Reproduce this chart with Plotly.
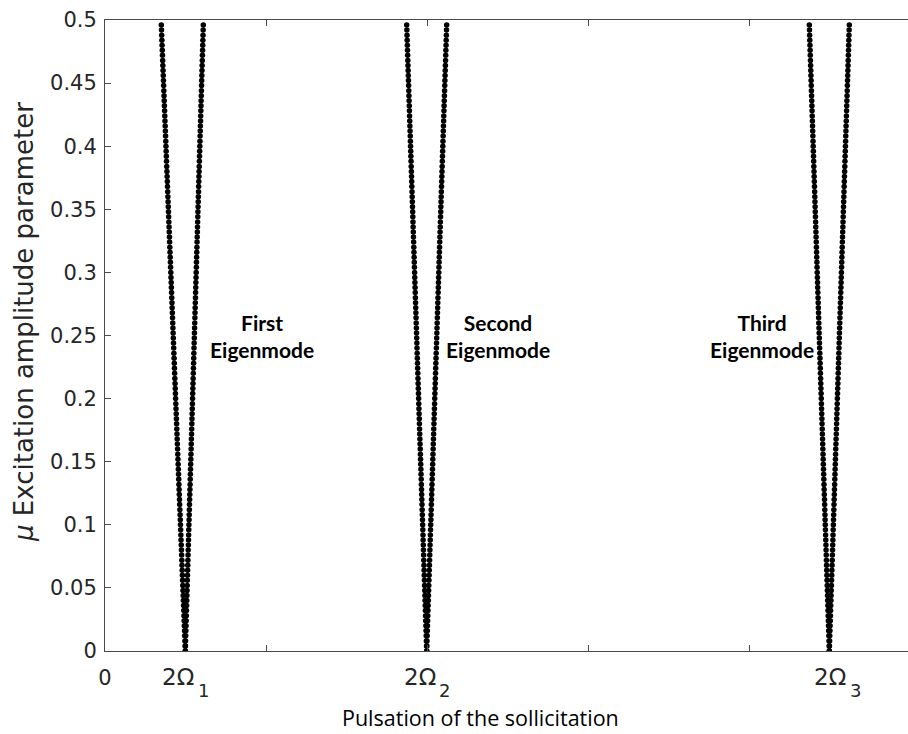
import plotly.graph_objects as go

# Excitation amplitude levels (shared by every boundary branch)
mu = [
    0, 0.004, 0.008, 0.012, 0.016, 0.02, 0.024, 0.028, 0.032, 0.036,
    0.04, 0.044, 0.048, 0.052, 0.056, 0.06, 0.064, 0.068, 0.072, 0.076,
    0.08, 0.084, 0.088, 0.092, 0.096, 0.1, 0.104, 0.108, 0.112, 0.116,
    0.12, 0.124, 0.128, 0.132, 0.136, 0.14, 0.144, 0.148, 0.152, 0.156,
    0.16, 0.164, 0.168, 0.172, 0.176, 0.18, 0.184, 0.188, 0.192, 0.196,
    0.2, 0.204, 0.208, 0.212, 0.216, 0.22, 0.224, 0.228, 0.232, 0.236,
    0.24, 0.244, 0.248, 0.252, 0.256, 0.26, 0.264, 0.268, 0.272, 0.276,
    0.28, 0.284, 0.288, 0.292, 0.296, 0.3, 0.304, 0.308, 0.312, 0.316,
    0.32, 0.324, 0.328, 0.332, 0.336, 0.34, 0.344, 0.348, 0.352, 0.356,
    0.36, 0.364, 0.368, 0.372, 0.376, 0.38, 0.384, 0.388, 0.392, 0.396,
    0.4, 0.404, 0.408, 0.412, 0.416, 0.42, 0.424, 0.428, 0.432, 0.436,
    0.44, 0.444, 0.448, 0.452, 0.456, 0.46, 0.464, 0.468, 0.472, 0.476,
    0.48, 0.484, 0.488, 0.492, 0.496,
]

# Instability boundaries around 2*Omega_1 (lower / upper frequency branch)
mode1_low = [
    49.80, 49.68, 49.56, 49.44, 49.32, 49.20, 49.08, 48.96, 48.84, 48.72,
    48.60, 48.48, 48.36, 48.24, 48.12, 48.00, 47.88, 47.76, 47.64, 47.52,
    47.40, 47.28, 47.16, 47.04, 46.92, 46.80, 46.68, 46.56, 46.44, 46.32,
    46.20, 46.08, 45.96, 45.84, 45.72, 45.60, 45.48, 45.36, 45.24, 45.12,
    45.00, 44.88, 44.76, 44.64, 44.52, 44.40, 44.28, 44.16, 44.04, 43.92,
    43.80, 43.68, 43.56, 43.44, 43.32, 43.20, 43.08, 42.96, 42.84, 42.72,
    42.60, 42.48, 42.36, 42.24, 42.12, 42.00, 41.88, 41.76, 41.64, 41.52,
    41.40, 41.28, 41.16, 41.04, 40.92, 40.80, 40.68, 40.56, 40.44, 40.32,
    40.20, 40.08, 39.96, 39.84, 39.72, 39.60, 39.48, 39.36, 39.24, 39.12,
    39.00, 38.88, 38.76, 38.64, 38.52, 38.40, 38.28, 38.16, 38.04, 37.92,
    37.80, 37.68, 37.56, 37.44, 37.32, 37.20, 37.08, 36.96, 36.84, 36.72,
    36.60, 36.48, 36.36, 36.24, 36.12, 36.00, 35.88, 35.76, 35.64, 35.52,
    35.40, 35.28, 35.16, 35.04, 34.92,
]
mode1_high = [
    49.80, 49.89, 49.98, 50.07, 50.16, 50.25, 50.34, 50.43, 50.52, 50.61,
    50.70, 50.79, 50.88, 50.97, 51.06, 51.15, 51.24, 51.33, 51.42, 51.51,
    51.60, 51.69, 51.78, 51.87, 51.96, 52.05, 52.14, 52.23, 52.32, 52.41,
    52.50, 52.59, 52.68, 52.77, 52.86, 52.95, 53.04, 53.13, 53.22, 53.31,
    53.40, 53.49, 53.58, 53.67, 53.76, 53.85, 53.94, 54.03, 54.12, 54.21,
    54.30, 54.39, 54.48, 54.57, 54.66, 54.75, 54.84, 54.93, 55.02, 55.11,
    55.20, 55.29, 55.38, 55.47, 55.56, 55.65, 55.74, 55.83, 55.92, 56.01,
    56.10, 56.19, 56.28, 56.37, 56.46, 56.55, 56.64, 56.73, 56.82, 56.91,
    57.00, 57.09, 57.18, 57.27, 57.36, 57.45, 57.54, 57.63, 57.72, 57.81,
    57.90, 57.99, 58.08, 58.17, 58.26, 58.35, 58.44, 58.53, 58.62, 58.71,
    58.80, 58.89, 58.98, 59.07, 59.16, 59.25, 59.34, 59.43, 59.52, 59.61,
    59.70, 59.79, 59.88, 59.97, 60.06, 60.15, 60.24, 60.33, 60.42, 60.51,
    60.60, 60.69, 60.78, 60.87, 60.96,
]

# Instability boundaries around 2*Omega_2
mode2_low = [
    199.5, 199.4, 199.3, 199.2, 199.1, 199.0, 198.9, 198.8, 198.7, 198.6,
    198.5, 198.4, 198.3, 198.2, 198.1, 198.0, 197.9, 197.8, 197.7, 197.6,
    197.5, 197.4, 197.3, 197.2, 197.1, 197.0, 196.9, 196.8, 196.7, 196.6,
    196.5, 196.4, 196.3, 196.2, 196.1, 196.0, 195.9, 195.8, 195.7, 195.6,
    195.5, 195.4, 195.3, 195.2, 195.1, 195.0, 194.9, 194.8, 194.7, 194.6,
    194.5, 194.4, 194.3, 194.2, 194.1, 194.0, 193.9, 193.8, 193.7, 193.6,
    193.5, 193.4, 193.3, 193.2, 193.1, 193.0, 192.9, 192.8, 192.7, 192.6,
    192.5, 192.4, 192.3, 192.2, 192.1, 192.0, 191.9, 191.8, 191.7, 191.6,
    191.5, 191.4, 191.3, 191.2, 191.1, 191.0, 190.9, 190.8, 190.7, 190.6,
    190.5, 190.4, 190.3, 190.2, 190.1, 190.0, 189.9, 189.8, 189.7, 189.6,
    189.5, 189.4, 189.3, 189.2, 189.1, 189.0, 188.9, 188.8, 188.7, 188.6,
    188.5, 188.4, 188.3, 188.2, 188.1, 188.0, 187.9, 187.8, 187.7, 187.6,
    187.5, 187.4, 187.3, 187.2, 187.1,
]
mode2_high = [
    199.5, 199.6, 199.7, 199.8, 199.9, 200.0, 200.1, 200.2, 200.3, 200.4,
    200.5, 200.6, 200.7, 200.8, 200.9, 201.0, 201.1, 201.2, 201.3, 201.4,
    201.5, 201.6, 201.7, 201.8, 201.9, 202.0, 202.1, 202.2, 202.3, 202.4,
    202.5, 202.6, 202.7, 202.8, 202.9, 203.0, 203.1, 203.2, 203.3, 203.4,
    203.5, 203.6, 203.7, 203.8, 203.9, 204.0, 204.1, 204.2, 204.3, 204.4,
    204.5, 204.6, 204.7, 204.8, 204.9, 205.0, 205.1, 205.2, 205.3, 205.4,
    205.5, 205.6, 205.7, 205.8, 205.9, 206.0, 206.1, 206.2, 206.3, 206.4,
    206.5, 206.6, 206.7, 206.8, 206.9, 207.0, 207.1, 207.2, 207.3, 207.4,
    207.5, 207.6, 207.7, 207.8, 207.9, 208.0, 208.1, 208.2, 208.3, 208.4,
    208.5, 208.6, 208.7, 208.8, 208.9, 209.0, 209.1, 209.2, 209.3, 209.4,
    209.5, 209.6, 209.7, 209.8, 209.9, 210.0, 210.1, 210.2, 210.3, 210.4,
    210.5, 210.6, 210.7, 210.8, 210.9, 211.0, 211.1, 211.2, 211.3, 211.4,
    211.5, 211.6, 211.7, 211.8, 211.9,
]

# Instability boundaries around 2*Omega_3
mode3_low = [
    449.2, 449.1, 449.0, 448.9, 448.8, 448.7, 448.6, 448.5, 448.4, 448.3,
    448.2, 448.1, 448.0, 447.9, 447.8, 447.7, 447.6, 447.5, 447.4, 447.3,
    447.2, 447.1, 447.0, 446.9, 446.8, 446.7, 446.6, 446.5, 446.4, 446.3,
    446.2, 446.1, 446.0, 445.9, 445.8, 445.7, 445.6, 445.5, 445.4, 445.3,
    445.2, 445.1, 445.0, 444.9, 444.8, 444.7, 444.6, 444.5, 444.4, 444.3,
    444.2, 444.1, 444.0, 443.9, 443.8, 443.7, 443.6, 443.5, 443.4, 443.3,
    443.2, 443.1, 443.0, 442.9, 442.8, 442.7, 442.6, 442.5, 442.4, 442.3,
    442.2, 442.1, 442.0, 441.9, 441.8, 441.7, 441.6, 441.5, 441.4, 441.3,
    441.2, 441.1, 441.0, 440.9, 440.8, 440.7, 440.6, 440.5, 440.4, 440.3,
    440.2, 440.1, 440.0, 439.9, 439.8, 439.7, 439.6, 439.5, 439.4, 439.3,
    439.2, 439.1, 439.0, 438.9, 438.8, 438.7, 438.6, 438.5, 438.4, 438.3,
    438.2, 438.1, 438.0, 437.9, 437.8, 437.7, 437.6, 437.5, 437.4, 437.3,
    437.2, 437.1, 437.0, 436.9, 436.8,
]
mode3_high = [
    449.2, 449.3, 449.4, 449.5, 449.6, 449.7, 449.8, 449.9, 450.0, 450.1,
    450.2, 450.3, 450.4, 450.5, 450.6, 450.7, 450.8, 450.9, 451.0, 451.1,
    451.2, 451.3, 451.4, 451.5, 451.6, 451.7, 451.8, 451.9, 452.0, 452.1,
    452.2, 452.3, 452.4, 452.5, 452.6, 452.7, 452.8, 452.9, 453.0, 453.1,
    453.2, 453.3, 453.4, 453.5, 453.6, 453.7, 453.8, 453.9, 454.0, 454.1,
    454.2, 454.3, 454.4, 454.5, 454.6, 454.7, 454.8, 454.9, 455.0, 455.1,
    455.2, 455.3, 455.4, 455.5, 455.6, 455.7, 455.8, 455.9, 456.0, 456.1,
    456.2, 456.3, 456.4, 456.5, 456.6, 456.7, 456.8, 456.9, 457.0, 457.1,
    457.2, 457.3, 457.4, 457.5, 457.6, 457.7, 457.8, 457.9, 458.0, 458.1,
    458.2, 458.3, 458.4, 458.5, 458.6, 458.7, 458.8, 458.9, 459.0, 459.1,
    459.2, 459.3, 459.4, 459.5, 459.6, 459.7, 459.8, 459.9, 460.0, 460.1,
    460.2, 460.3, 460.4, 460.5, 460.6, 460.7, 460.8, 460.9, 461.0, 461.1,
    461.2, 461.3, 461.4, 461.5, 461.6,
]

branches = [mode1_low, mode1_high, mode2_low, mode2_high, mode3_low, mode3_high]

# Resonance labels 2*Omega_n and where their text sits on the frequency axis
resonance_digits = ["1", "2", "3"]
resonance_label_x = [49.8, 199.5, 454.0]

mode_labels = ["First<br>Eigenmode", "Second<br>Eigenmode", "Third<br>Eigenmode"]
mode_label_x = [97.5, 243.5, 407.5]
mode_label_y = 0.25

x_ticks = [0, 100, 200, 300, 400]
x_tick_text = ["0", "", "", "", ""]
y_ticks = [0, 0.05, 0.1, 0.15, 0.2, 0.25, 0.3, 0.35, 0.4, 0.45, 0.5]
y_tick_text = ["0", "0.05", "0.1", "0.15", "0.2", "0.25", "0.3", "0.35", "0.4", "0.45", "0.5"]

AXIS_COLOR = "#4a4a4a"
TEXT_COLOR = "#262626"
SANS = "DejaVu Sans, Liberation Sans, sans-serif"
HUMANIST = "Lato, Open Sans, sans-serif"

fig = go.Figure()
for xs in branches:
    assert len(xs) == len(mu)
    fig.add_trace(go.Scatter(
        x=xs, y=mu, mode="markers",
        marker=dict(color="black", size=5.5, line=dict(width=0)),
        showlegend=False, hoverinfo="x+y",
    ))

annotations = []
for txt, xv in zip(mode_labels, mode_label_x):
    annotations.append(dict(
        x=xv, y=mode_label_y, xref="x", yref="y", text=txt, showarrow=False,
        font=dict(family=HUMANIST, size=21, color="black", weight="bold"),
        align="center", xanchor="center", yanchor="middle",
    ))

for digit, xv in zip(resonance_digits, resonance_label_x):
    annotations.append(dict(
        x=xv, y=-0.041, xref="x", yref="paper", text="2Ω", showarrow=False,
        font=dict(family=SANS, size=23, color=TEXT_COLOR),
        xanchor="center", yanchor="middle", xshift=-7,
    ))
    annotations.append(dict(
        x=xv, y=-0.063, xref="x", yref="paper", text=digit, showarrow=False,
        font=dict(family=SANS, size=18, color=TEXT_COLOR),
        xanchor="center", yanchor="middle", xshift=18,
    ))

annotations.append(dict(
    x=233, y=-0.106, xref="x", yref="paper", text="Pulsation of the sollicitation",
    showarrow=False, font=dict(family="Open Sans, Lato, sans-serif", size=21.5, color="black"),
    xanchor="center", yanchor="middle",
))
annotations.append(dict(
    x=-0.100, y=0.521, xref="paper", yref="paper",
    text="<i>μ</i> Excitation amplitude parameter", textangle=-90,
    showarrow=False, font=dict(family=SANS, size=26, color=TEXT_COLOR),
    xanchor="center", yanchor="middle",
))

fig.update_layout(
    width=908, height=734,
    margin=dict(l=105, r=0, t=20, b=83),
    paper_bgcolor="white", plot_bgcolor="white",
    annotations=annotations,
    xaxis=dict(
        range=[0, 498], tickvals=x_ticks, ticktext=x_tick_text,
        ticks="inside", ticklen=6, tickcolor=AXIS_COLOR, tickwidth=1,
        showline=True, linecolor=AXIS_COLOR, linewidth=1, mirror="ticks",
        showgrid=False, zeroline=False, ticklabelstandoff=8,
        tickfont=dict(family=SANS, size=21, color=TEXT_COLOR),
    ),
    yaxis=dict(
        range=[0, 0.5], tickvals=y_ticks, ticktext=y_tick_text,
        ticks="inside", ticklen=6, tickcolor=AXIS_COLOR, tickwidth=1,
        showline=True, linecolor=AXIS_COLOR, linewidth=1,
        showgrid=False, zeroline=False, ticklabelstandoff=3,
        tickfont=dict(family=SANS, size=21, color=TEXT_COLOR),
    ),
)

fig.write_html("out.html")
